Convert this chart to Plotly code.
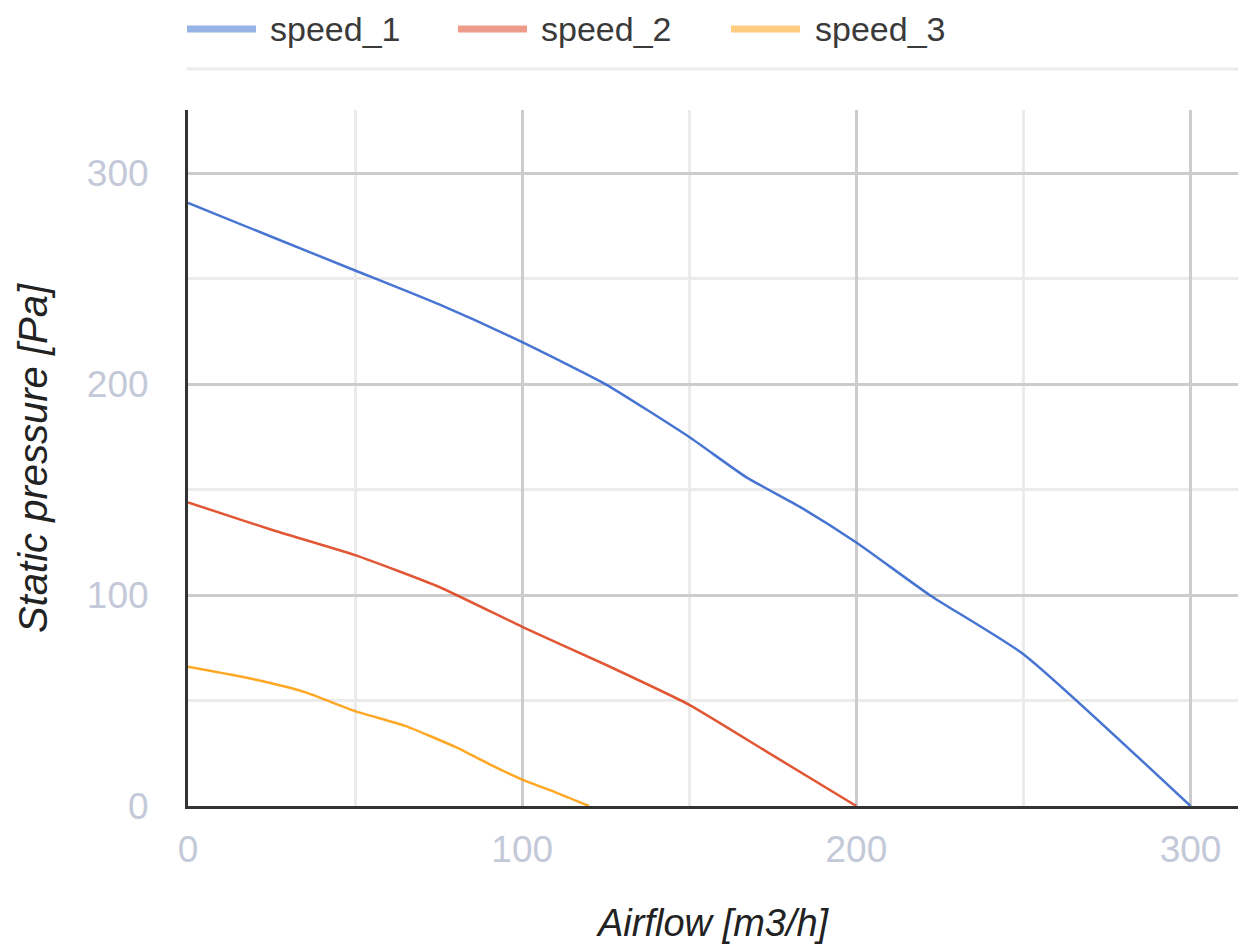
import plotly.graph_objects as go

# ---- data ----
series_names = ["speed_1", "speed_2", "speed_3"]

speed_1_x = [0, 25, 50, 75, 100, 125, 150, 167, 183, 200, 222, 250, 300]
speed_1_y = [286, 270, 254, 238, 220, 200, 175, 156, 142, 125, 100, 72, 0]

speed_2_x = [0, 25, 50, 75, 100, 125, 150, 175, 200]
speed_2_y = [144, 131, 119, 104, 85, 67, 48, 24, 0]

speed_3_x = [0, 20, 35, 50, 65, 80, 90, 100, 110, 120]
speed_3_y = [66, 60, 54, 45, 38, 28, 20, 12.5, 6.5, 0]

x_ticks = [0, 100, 200, 300]
y_ticks = [0, 100, 200, 300]

x_title = "Airflow [m3/h]"
y_title = "Static pressure [Pa]"

# ---- styles ----
line_colors = ["rgba(51,102,204,0.9)", "rgba(220,57,18,0.85)", "rgba(255,153,0,0.85)"]
swatch_colors = ["#97b3e6", "#ee9c89", "#ffcc80"]

W, H = 1238, 946
L, R, T, B = 188, 0, 110, 140
plot_w = W - L - R
plot_h = H - T - B

fig = go.Figure()
for name, xs, ys, col in zip(series_names,
                             [speed_1_x, speed_2_x, speed_3_x],
                             [speed_1_y, speed_2_y, speed_3_y],
                             line_colors):
    fig.add_trace(go.Scatter(x=xs, y=ys, mode="lines", name=name,
                             line=dict(color=col, width=2.5, shape="spline", smoothing=0.5),
                             showlegend=False, hoverinfo="x+y+name"))

# custom legend (swatches + labels) in paper coordinates
def px_to_paper_x(px):
    return (px - L) / plot_w

def py_to_paper_y(py):
    return (H - B - py) / plot_h

legend_swatch_left = [187, 458, 731]
legend_text_left = [268, 539, 813]
legend_y = 29
shapes = []
annotations = []
for i, name in enumerate(series_names):
    shapes.append(dict(type="line", xref="paper", yref="paper",
                       x0=px_to_paper_x(legend_swatch_left[i]),
                       x1=px_to_paper_x(legend_swatch_left[i] + 69),
                       y0=py_to_paper_y(legend_y), y1=py_to_paper_y(legend_y),
                       line=dict(color=swatch_colors[i], width=7)))
    annotations.append(dict(xref="paper", yref="paper",
                            x=px_to_paper_x(legend_text_left[i]),
                            y=py_to_paper_y(legend_y),
                            xanchor="left", yanchor="middle", showarrow=False,
                            text=name,
                            font=dict(family="Liberation Sans, Arial", size=34, color="#3a3a3a")))
# separator line under legend
shapes.append(dict(type="line", xref="paper", yref="paper",
                   x0=px_to_paper_x(187), x1=1.0,
                   y0=py_to_paper_y(69), y1=py_to_paper_y(69),
                   line=dict(color="#ebebeb", width=3)))

# axis titles as annotations
annotations.append(dict(xref="paper", yref="paper", x=0.5, y=py_to_paper_y(923),
                        xanchor="center", yanchor="middle", showarrow=False,
                        text="<i>" + x_title + "</i>",
                        font=dict(family="Liberation Sans, Arial", size=38, color="#222222")))
annotations.append(dict(xref="paper", yref="paper", x=px_to_paper_x(33), y=0.5,
                        xanchor="center", yanchor="middle", showarrow=False,
                        textangle=-90,
                        text="<i>" + y_title + "</i>",
                        font=dict(family="Liberation Sans, Arial", size=40, color="#222222")))

x_max = plot_w / ((1190 - 187.5) / 300.0)
y_max = plot_h / ((806.5 - 174) / 300.0)

tick_font = dict(family="Liberation Sans, Arial", size=37, color="#c3c9d8")

fig.update_layout(
    width=W, height=H,
    margin=dict(l=L, r=R, t=T, b=B, pad=0),
    paper_bgcolor="white", plot_bgcolor="white",
    shapes=shapes, annotations=annotations,
    showlegend=False,
    xaxis=dict(range=[0, x_max], tickmode="array", tickvals=x_ticks,
               ticktext=[str(v) for v in x_ticks],
               showgrid=True, gridcolor="#cccccc", gridwidth=3,
               minor=dict(dtick=50, tick0=0, showgrid=True, gridcolor="#ebebeb", gridwidth=3),
               zeroline=False, showline=True, linecolor="#333333", linewidth=3,
               ticks="", tickfont=tick_font, ticklabelstandoff=9, fixedrange=True),
    yaxis=dict(range=[0, y_max], tickmode="array", tickvals=y_ticks,
               ticktext=[str(v) for v in y_ticks],
               showgrid=True, gridcolor="#cccccc", gridwidth=3,
               minor=dict(dtick=50, tick0=0, showgrid=True, gridcolor="#ebebeb", gridwidth=3),
               zeroline=False, showline=True, linecolor="#333333", linewidth=3,
               ticks="", tickfont=tick_font, ticklabelstandoff=29, fixedrange=True),
)

fig.write_html("out.html",
               config={"displayModeBar": False},
               post_script="document.body.style.margin='0px';document.body.style.overflow='hidden';")
